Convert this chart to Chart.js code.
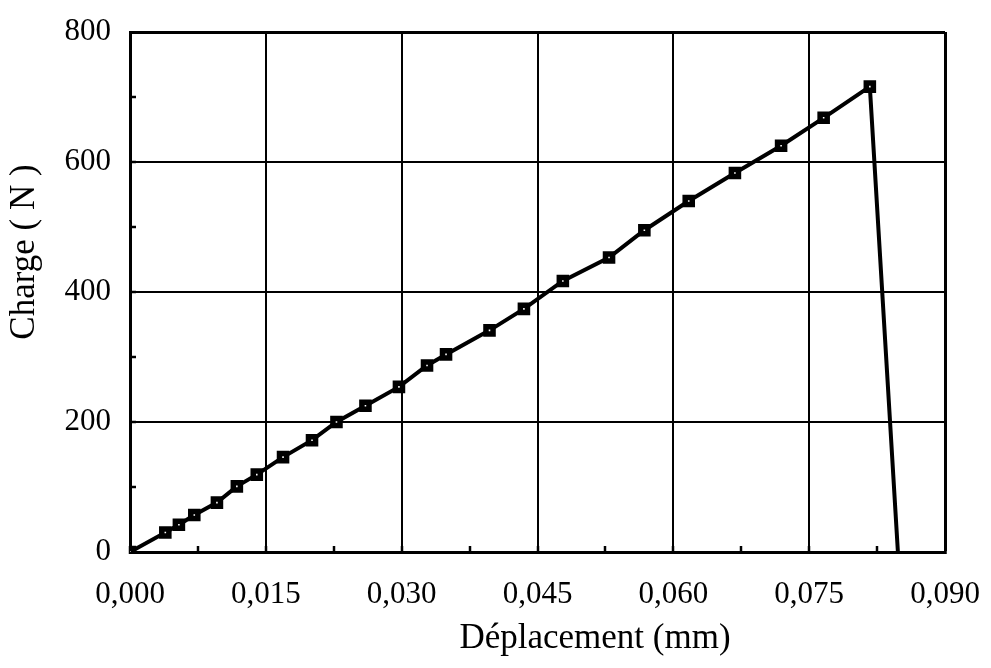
<!DOCTYPE html>
<html>
<head>
<meta charset="utf-8">
<script src="https://cdn.jsdelivr.net/npm/chart.js@4"></script>
<style>
  html, body { margin: 0; padding: 0; background: #fff; }
  #wrap { width: 991px; height: 668px; }
</style>
</head>
<body>
<div id="wrap"><canvas id="myChart" width="991" height="668"></canvas></div>
<script>
const graph = document.querySelector("#myChart");

// déplacement (mm) et charge (N)
const deplacement = [0, 0.0039, 0.0054, 0.0071, 0.0096, 0.0118, 0.0140, 0.0169, 0.0201, 0.0228,
  0.0260, 0.0297, 0.0328, 0.0349, 0.0397, 0.0435, 0.0478, 0.0529, 0.0568, 0.0617,
  0.0668, 0.0719, 0.0766, 0.0817, 0.0848];
const charge = [0, 30, 42, 57, 76, 101, 119, 146, 172, 200,
  225, 254, 287, 304, 341, 374, 417, 453, 495, 540,
  583, 625, 668, 716, 0];
// le dernier point (rupture) n'a pas de marqueur
const marqueur = deplacement.map((d, i) => (i === deplacement.length - 1 ? 0 : 5));

const xMax = 0.09;
const xStep = 0.0075; // demi-intervalle -> graduations secondaires
const yMax = 800;
const yStep = 100;

const titreX = "Déplacement (mm)";
const titreY = "Charge ( N )";

const police = "'Liberation Serif', 'Times New Roman', serif";

const points = deplacement.map((d, i) => ({ x: d, y: charge[i] }));

// titres des axes, décalés comme sur l'original
const titresAxes = {
  id: "titresAxes",
  afterDraw(chart) {
    const ctx = chart.ctx;
    ctx.save();
    ctx.fillStyle = "#000";
    ctx.font = "35px " + police;
    ctx.textAlign = "center";
    ctx.textBaseline = "alphabetic";
    ctx.fillText(titreX, 595, 648);
    ctx.translate(34, 252);
    ctx.rotate(-Math.PI / 2);
    ctx.fillText(titreY, 0, 0);
    ctx.restore();
  },
};

const majeur = (c) => c.index % 2 === 0;

let myChart = new Chart(graph, {
  type: "line",
  data: {
    datasets: [
      {
        data: points,
        borderColor: "#000",
        borderWidth: 4,
        pointStyle: "rect",
        pointRadius: marqueur,
        pointBorderWidth: 5.5,
        pointBorderColor: "#000",
        pointBackgroundColor: "#fff",
        tension: 0,
      },
    ],
  },
  options: {
    responsive: false,
    animation: false,
    layout: { padding: { left: 0, top: 32, right: 46, bottom: 0 } },
    plugins: { legend: { display: false }, tooltip: { enabled: false } },
    scales: {
      x: {
        type: "linear",
        min: 0,
        max: xMax,
        afterFit: (s) => {
          s.height = 116;
          s.paddingLeft = 0;
          s.paddingRight = 0;
        },
        ticks: {
          stepSize: xStep,
          padding: 30,
          color: "#000",
          font: { family: police, size: 31 },
          maxRotation: 0,
          autoSkip: false,
          callback: (v, i) => (i % 2 === 0 ? v.toFixed(3).replace(".", ",") : ""),
        },
        grid: {
          color: (c) => (majeur(c) ? "#000" : "rgba(0,0,0,0)"),
          lineWidth: (c) => (c.index === 12 ? 3 : 2),
          tickLength: -6,
          tickColor: "#000",
          tickWidth: 2.5,
        },
        border: { color: "#000", width: 3 },
      },
      y: {
        type: "linear",
        min: 0,
        max: yMax,
        afterFit: (s) => {
          s.width = 130;
          s.paddingTop = 0;
          s.paddingBottom = 0;
        },
        ticks: {
          stepSize: yStep,
          padding: 25,
          color: "#000",
          font: { family: police, size: 31 },
          autoSkip: false,
          callback: (v, i) => (i % 2 === 0 ? String(v) : ""),
        },
        grid: {
          color: (c) => (majeur(c) ? "#000" : "rgba(0,0,0,0)"),
          lineWidth: (c) => (c.index === 8 ? 3 : 2),
          tickLength: -6,
          tickColor: "#000",
          tickWidth: 2.5,
        },
        border: { color: "#000", width: 3 },
      },
    },
  },
  plugins: [titresAxes],
});
</script>
</body>
</html>
